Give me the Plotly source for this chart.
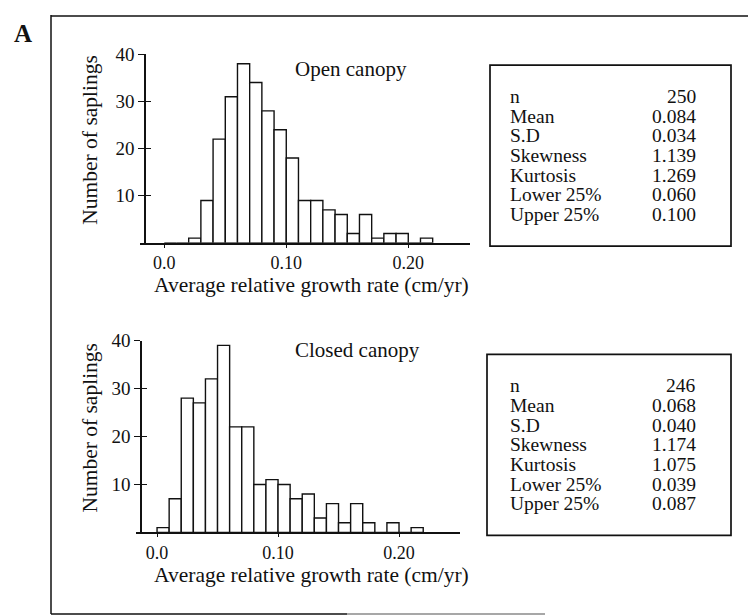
import plotly.graph_objects as go

# Histogram bins: left edges 0.00, 0.01, ... 0.21 (width 0.01)
bin_width = 0.01
bin_starts = [round(i * bin_width, 2) for i in range(22)]
open_counts = [0, 0, 1, 9, 22, 31, 38, 34, 28, 24, 18, 9, 9, 7, 6, 2, 6, 1, 2, 2, 0, 1]
closed_counts = [1, 7, 28, 27, 32, 39, 22, 22, 10, 11, 10, 7, 8, 3, 6, 2, 6, 2, 0, 2, 0, 1]

stat_labels = ["n", "Mean", "S.D", "Skewness", "Kurtosis", "Lower 25%", "Upper 25%"]
open_stats = ["250", "0.084", "0.034", "1.139", "1.269", "0.060", "0.100"]
closed_stats = ["246", "0.068", "0.040", "1.174", "1.075", "0.039", "0.087"]

x_tickvals = [0.0, 0.1, 0.2]
x_ticktext = ["0.0", "0.10", "0.20"]
y_tickvals = [10, 20, 30, 40]

W, H = 748, 616
FONT = "Liberation Serif"
INK = "#111111"


def px(x):
    return x / W


def py(y):
    return 1 - y / H


panels = [
    dict(counts=open_counts, stats=open_stats, title="Open canopy", head=(351, 60),
         xa="x", ya="y", xdom=[140, 470], ydom=[45, 236.7], yline=145,
         xrange=[-0.0199, 0.2506], box=[490, 56, 731, 240]),
    dict(counts=closed_counts, stats=closed_stats, title="Closed canopy", head=(357, 346),
         xa="x2", ya="y2", xdom=[136, 460], ydom=[336, 531], yline=141,
         xrange=[-0.0174, 0.2504], box=[487, 350, 731, 534]),
]

fig = go.Figure()
layout = dict(
    width=W, height=H, margin=dict(l=0, r=0, t=0, b=0),
    paper_bgcolor="white", plot_bgcolor="rgba(0,0,0,0)",
    showlegend=False, font=dict(family=FONT, color=INK, size=18),
    annotations=[], shapes=[],
)

for i, p in enumerate(panels):
    centers = [s + bin_width / 2 for s in bin_starts]
    fig.add_trace(go.Bar(
        x=centers, y=p["counts"], width=bin_width,
        marker=dict(color="white", line=dict(color=INK, width=1.4)),
        xaxis=p["xa"], yaxis=p["ya"], hoverinfo="skip",
    ))
    n = "" if i == 0 else str(i + 1)
    inner = str(i + 3)
    # empty trace so the inner-tick overlay axis is drawn
    fig.add_trace(go.Scatter(x=[None], y=[None], xaxis=p["xa"], yaxis="y" + inner,
                             hoverinfo="skip"))

    layout["xaxis" + n] = dict(
        domain=[px(p["xdom"][0]), px(p["xdom"][1])], range=p["xrange"],
        anchor=p["ya"], showline=True, linecolor=INK, linewidth=1.5,
        showgrid=False, zeroline=False, ticks="outside", ticklen=3,
        tickcolor=INK, tickwidth=1.3, tickvals=x_tickvals, ticktext=x_ticktext,
        tickfont=dict(family=FONT, size=18, color=INK),
    )
    layout["yaxis" + n] = dict(
        domain=[py(p["ydom"][1]), py(p["ydom"][0])], range=[0, 40],
        anchor="free", position=px(p["yline"]), showline=True, linecolor=INK,
        linewidth=1.5, showgrid=False, zeroline=False, ticks="outside",
        ticklen=6, tickcolor=INK, tickwidth=1.4, tickvals=y_tickvals,
        tickfont=dict(family=FONT, size=19, color=INK),
    )
    layout["yaxis" + inner] = dict(
        domain=[py(p["ydom"][1]), py(p["ydom"][0])], range=[0, 40],
        overlaying=p["ya"], anchor="free", position=px(p["yline"]),
        showline=False, showgrid=False, zeroline=False, ticks="inside",
        ticklen=5, tickcolor=INK, tickwidth=1.4, tickvals=y_tickvals,
        showticklabels=False,
    )

    # panel heading
    hx, hy = p["head"]
    layout["annotations"].append(dict(
        text=p["title"], xref="paper", yref="paper",
        x=px(hx), y=py(hy), xanchor="center", yanchor="middle",
        showarrow=False, font=dict(family=FONT, size=21, color=INK)))
    # axis titles
    layout["annotations"].append(dict(
        text="Average relative growth rate (cm/yr)", xref="paper", yref="paper",
        x=px(311), y=py(p["ydom"][1] + 43), xanchor="center", yanchor="middle",
        showarrow=False, font=dict(family=FONT, size=21.5, color=INK)))
    layout["annotations"].append(dict(
        text="Number of saplings", xref="paper", yref="paper", textangle=-90,
        x=px(90), y=py((p["ydom"][0] + p["ydom"][1]) / 2 - 9),
        xanchor="center", yanchor="middle",
        showarrow=False, font=dict(family=FONT, size=21.5, color=INK)))

    # statistics box
    bx0, by0, bx1, by1 = p["box"]
    layout["shapes"].append(dict(
        type="rect", xref="paper", yref="paper",
        x0=px(bx0), x1=px(bx1), y0=py(by1), y1=py(by0),
        line=dict(color=INK, width=1.7), fillcolor="rgba(0,0,0,0)"))
    row_step = 20
    first_row = by0 + 32
    for r, (lab, val) in enumerate(zip(stat_labels, p["stats"])):
        yy = py(first_row + r * row_step)
        layout["annotations"].append(dict(
            text=lab, xref="paper", yref="paper", x=px(508), y=yy,
            xanchor="left", yanchor="middle", showarrow=False,
            font=dict(family=FONT, size=19.5, color=INK)))
        layout["annotations"].append(dict(
            text=val, xref="paper", yref="paper", x=px(698), y=yy,
            xanchor="right", yanchor="middle", showarrow=False,
            font=dict(family=FONT, size=19.5, color=INK)))

# outer frame: left and top edges, bottom edge fading out
frame = [
    dict(x0=51, y0=5, x1=51, y1=614, color=INK),
    dict(x0=51, y0=6, x1=760, y1=6, color=INK),
    dict(x0=51, y0=614, x1=347, y1=614, color=INK),
    dict(x0=347, y0=614, x1=545, y1=614, color="#8a8a8a"),
]
for f in frame:
    layout["shapes"].append(dict(
        type="line", xref="paper", yref="paper",
        x0=px(f["x0"]), x1=px(f["x1"]), y0=py(f["y0"]), y1=py(f["y1"]),
        line=dict(color=f["color"], width=1.5)))

# panel letter
layout["annotations"].append(dict(
    text="<b>A</b>", xref="paper", yref="paper", x=px(23), y=py(24),
    xanchor="center", yanchor="middle", showarrow=False,
    font=dict(family=FONT, size=25, color=INK)))

fig.update_layout(**layout)
fig.write_html("out.html")
